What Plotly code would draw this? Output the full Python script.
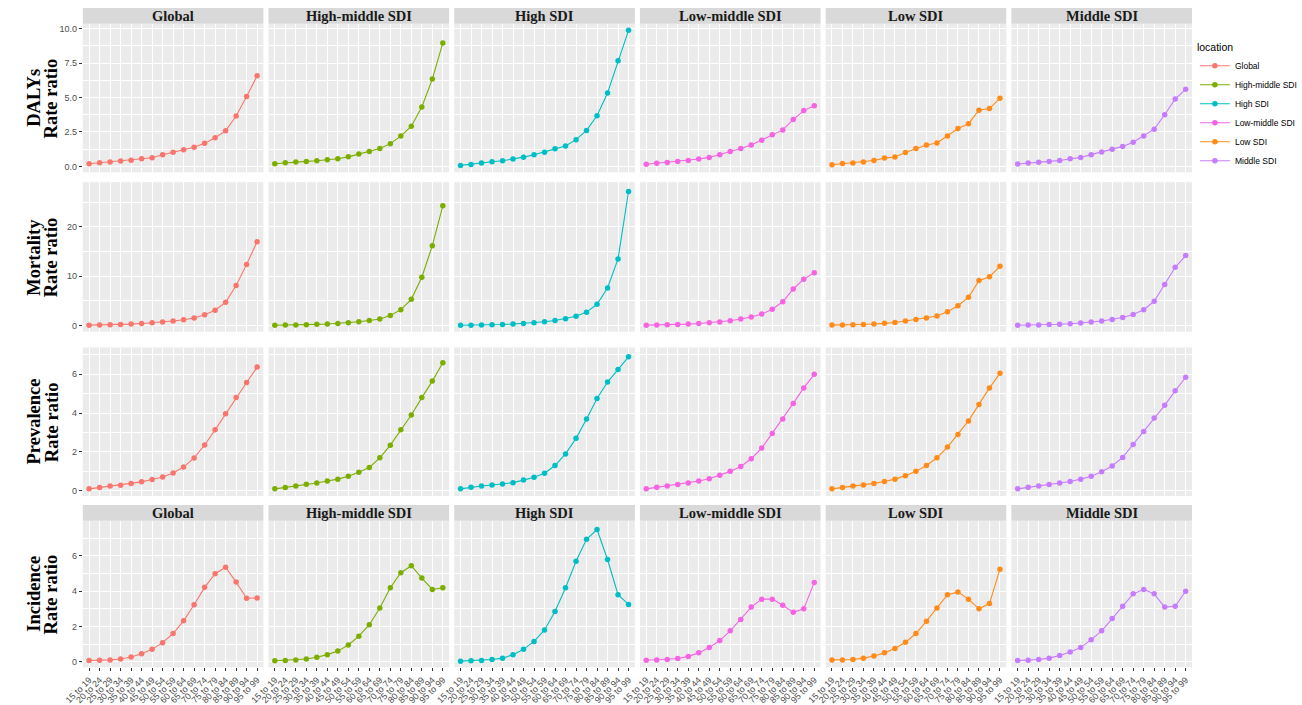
import plotly.graph_objects as go

# Age groups on the x axis
age_groups = ["15 to 19", "20 to 24", "25 to 29", "30 to 34", "35 to 39", "40 to 44",
              "45 to 49", "50 to 54", "55 to 59", "60 to 64", "65 to 69", "70 to 74",
              "75 to 79", "80 to 84", "85 to 89", "90 to 94", "95 to 99"]

locations = ["Global", "High-middle SDI", "High SDI", "Low-middle SDI", "Low SDI", "Middle SDI"]
measures = ["DALYs", "Mortality", "Prevalence", "Incidence"]

colors = {
    "Global": "#F8766D",
    "High-middle SDI": "#7CAE00",
    "High SDI": "#00BFC4",
    "Low-middle SDI": "#F564E3",
    "Low SDI": "#FF8C1A",
    "Middle SDI": "#C77CFF",
}

# DALYs rate ratio
dalys_global = [0.19, 0.26, 0.31, 0.38, 0.45, 0.55, 0.62, 0.84, 1.03, 1.20, 1.39, 1.67, 2.08, 2.58, 3.66, 5.07, 6.58]
dalys_high_middle = [0.19, 0.26, 0.31, 0.36, 0.41, 0.48, 0.55, 0.69, 0.89, 1.08, 1.29, 1.65, 2.20, 2.92, 4.31, 6.34, 8.97]
dalys_high = [0.07, 0.14, 0.24, 0.33, 0.41, 0.53, 0.67, 0.84, 1.03, 1.27, 1.48, 1.94, 2.61, 3.68, 5.33, 7.68, 9.88]
dalys_low_middle = [0.15, 0.22, 0.28, 0.35, 0.43, 0.53, 0.65, 0.85, 1.08, 1.30, 1.55, 1.90, 2.30, 2.65, 3.40, 4.05, 4.40]
dalys_low = [0.12, 0.20, 0.25, 0.32, 0.42, 0.60, 0.68, 1.00, 1.30, 1.55, 1.70, 2.20, 2.75, 3.10, 4.08, 4.20, 4.95]
dalys_middle = [0.17, 0.25, 0.30, 0.36, 0.42, 0.55, 0.65, 0.85, 1.05, 1.25, 1.45, 1.75, 2.20, 2.70, 3.75, 4.90, 5.60]

# Mortality rate ratio
mort_global = [0.05, 0.07, 0.13, 0.20, 0.27, 0.40, 0.54, 0.70, 0.90, 1.15, 1.50, 2.15, 3.10, 4.70, 8.10, 12.40, 17.00]
mort_high_middle = [0.04, 0.06, 0.10, 0.15, 0.22, 0.30, 0.40, 0.55, 0.75, 1.00, 1.30, 2.00, 3.20, 5.30, 9.80, 16.20, 24.30]
mort_high = [0.02, 0.04, 0.07, 0.12, 0.18, 0.28, 0.40, 0.55, 0.75, 1.00, 1.35, 1.85, 2.70, 4.30, 7.60, 13.50, 27.20]
mort_low_middle = [0.05, 0.08, 0.13, 0.19, 0.27, 0.38, 0.52, 0.70, 0.95, 1.30, 1.70, 2.30, 3.30, 4.80, 7.40, 9.40, 10.70]
mort_low = [0.06, 0.09, 0.14, 0.21, 0.30, 0.42, 0.58, 0.90, 1.20, 1.50, 1.90, 2.80, 4.00, 5.70, 9.10, 9.90, 12.00]
mort_middle = [0.04, 0.07, 0.11, 0.17, 0.25, 0.35, 0.48, 0.68, 0.90, 1.20, 1.60, 2.20, 3.20, 4.90, 8.30, 11.80, 14.20]

# Prevalence rate ratio
prev_global = [0.10, 0.17, 0.24, 0.29, 0.37, 0.46, 0.58, 0.71, 0.92, 1.22, 1.69, 2.36, 3.14, 3.97, 4.81, 5.58, 6.37]
prev_high_middle = [0.10, 0.17, 0.25, 0.33, 0.40, 0.50, 0.60, 0.75, 0.95, 1.20, 1.70, 2.35, 3.15, 3.90, 4.80, 5.65, 6.60]
prev_high = [0.10, 0.18, 0.25, 0.30, 0.35, 0.42, 0.55, 0.70, 0.90, 1.30, 1.90, 2.70, 3.70, 4.75, 5.60, 6.25, 6.90]
prev_low_middle = [0.10, 0.18, 0.25, 0.32, 0.40, 0.50, 0.62, 0.80, 1.00, 1.25, 1.65, 2.20, 2.95, 3.70, 4.50, 5.30, 6.00]
prev_low = [0.10, 0.17, 0.24, 0.30, 0.38, 0.48, 0.60, 0.78, 1.00, 1.30, 1.70, 2.25, 2.90, 3.60, 4.45, 5.30, 6.05]
prev_middle = [0.10, 0.18, 0.25, 0.32, 0.40, 0.48, 0.60, 0.75, 0.98, 1.28, 1.72, 2.38, 3.05, 3.75, 4.40, 5.15, 5.85]

# Incidence rate ratio
inc_global = [0.07, 0.08, 0.10, 0.15, 0.27, 0.45, 0.70, 1.08, 1.60, 2.32, 3.23, 4.22, 4.99, 5.36, 4.52, 3.60, 3.62]
inc_high_middle = [0.05, 0.07, 0.10, 0.15, 0.25, 0.40, 0.60, 0.95, 1.45, 2.10, 3.05, 4.20, 5.05, 5.45, 4.75, 4.10, 4.20]
inc_high = [0.03, 0.05, 0.07, 0.12, 0.20, 0.40, 0.70, 1.15, 1.80, 2.85, 4.20, 5.70, 6.95, 7.50, 5.80, 3.80, 3.25]
inc_low_middle = [0.08, 0.10, 0.12, 0.18, 0.30, 0.50, 0.80, 1.20, 1.75, 2.40, 3.10, 3.55, 3.55, 3.20, 2.80, 3.00, 4.50]
inc_low = [0.10, 0.10, 0.12, 0.20, 0.32, 0.50, 0.75, 1.10, 1.60, 2.30, 3.05, 3.80, 3.95, 3.55, 3.00, 3.30, 5.25]
inc_middle = [0.06, 0.08, 0.12, 0.20, 0.35, 0.55, 0.80, 1.25, 1.75, 2.45, 3.15, 3.85, 4.10, 3.85, 3.10, 3.15, 4.00]

series = {
    "DALYs": [dalys_global, dalys_high_middle, dalys_high, dalys_low_middle, dalys_low, dalys_middle],
    "Mortality": [mort_global, mort_high_middle, mort_high, mort_low_middle, mort_low, mort_middle],
    "Prevalence": [prev_global, prev_high_middle, prev_high, prev_low_middle, prev_low, prev_middle],
    "Incidence": [inc_global, inc_high_middle, inc_high, inc_low_middle, inc_low, inc_middle],
}

# y axis settings per measure: range, major ticks, tick text, minor ticks
y_axes = {
    "DALYs": ([-0.43, 10.36], [0, 2.5, 5, 7.5, 10], ["0.0", "2.5", "5.0", "7.5", "10.0"], [1.25, 3.75, 6.25, 8.75]),
    "Mortality": ([-1.27, 29.1], [0, 10, 20], ["0", "10", "20"], [5, 15, 25]),
    "Prevalence": ([-0.27, 7.38], [0, 2, 4, 6], ["0", "2", "4", "6"], [1, 3, 5, 7]),
    "Incidence": ([-0.32, 8.0], [0, 2, 4, 6], ["0", "2", "4", "6"], [1, 3, 5, 7]),
}

W, H = 1302, 705
col_left = [65, 254.2, 443.4, 632.6, 821.8, 1011]
col_width = 184
row_span = [(24, 174), (184, 335), (351, 501), (526, 674)]  # top, bottom in px
strip_span = {0: (8, 24), 3: (510, 526)}

Y_TICK_FONT = dict(family="Arial, Liberation Sans", size=9, color="#4D4D4D")
X_TICK_FONT = dict(family="Arial, Liberation Sans", size=9, color="#4D4D4D")
SERIF = "Times New Roman, Liberation Serif, serif"

fig = go.Figure()
layout = {}
shapes = []
annotations = []

n = 0
for r, measure in enumerate(measures):
    top, bottom = row_span[r]
    yrange, yticks, ytext, yminor = y_axes[measure]
    for c, loc in enumerate(locations):
        n += 1
        xa = "x" if n == 1 else f"x{n}"
        ya = "y" if n == 1 else f"y{n}"
        xkey = "xaxis" if n == 1 else f"xaxis{n}"
        ykey = "yaxis" if n == 1 else f"yaxis{n}"
        x0 = col_left[c] / W
        x1 = (col_left[c] + col_width) / W
        layout[xkey] = dict(
            domain=[x0, x1], anchor=ya, type="category",
            categoryorder="array", categoryarray=age_groups,
            tickmode="array", tickvals=age_groups, ticktext=age_groups,
            range=[-0.6, 16.6], showgrid=True, gridcolor="white", gridwidth=1.1,
            zeroline=False, showline=False, fixedrange=True,
            showticklabels=(r == 3), tickangle=-45, tickfont=X_TICK_FONT,
            ticks="outside" if r == 3 else "", ticklen=3, tickcolor="#333333", tickwidth=1,
        )
        layout[ykey] = dict(
            domain=[1 - bottom / H, 1 - top / H], anchor=xa,
            range=yrange, tickmode="array", tickvals=yticks, ticktext=ytext,
            showgrid=True, gridcolor="white", gridwidth=1.1, zeroline=False, showline=False,
            showticklabels=(c == 0), tickfont=Y_TICK_FONT,
            ticks="outside" if c == 0 else "", ticklen=3, tickcolor="#333333", tickwidth=1,
            minor=dict(tickvals=yminor, showgrid=True, gridcolor="white", gridwidth=0.5, ticks=""),
            fixedrange=True,
        )
        fig.add_trace(go.Scatter(
            x=age_groups, y=series[measure][c], xaxis=xa, yaxis=ya,
            mode="lines+markers", name=loc,
            showlegend=(r == 0),
            line=dict(color=colors[loc], width=1.1),
            marker=dict(color=colors[loc], size=5.5),
        ))
        if r in strip_span:
            s0, s1 = strip_span[r]
            shapes.append(dict(type="rect", xref="paper", yref="paper",
                               x0=x0, x1=x1, y0=1 - s1 / H, y1=1 - s0 / H,
                               fillcolor="#D9D9D9", line=dict(width=0), layer="below"))
            annotations.append(dict(text=f"<b>{loc}</b>", xref="paper", yref="paper",
                                    x=(x0 + x1) / 2, y=1 - (s0 + s1) / 2 / H,
                                    showarrow=False, xanchor="center", yanchor="middle",
                                    font=dict(family=SERIF, size=14.5, color="#1A1A1A")))
    # row title: two rotated lines
    mid = 1 - (top + bottom) / 2 / H
    for xpx, line in ((15, measure), (33, "Rate ratio")):
        annotations.append(dict(text=f"<b>{line}</b>", xref="paper", yref="paper",
                                x=xpx / W, y=mid, textangle=-90, showarrow=False,
                                xanchor="center", yanchor="middle",
                                font=dict(family=SERIF, size=18.5, color="black")))

fig.update_layout(
    width=W, height=H,
    margin=dict(l=0, r=0, t=0, b=0),
    paper_bgcolor="white", plot_bgcolor="#EBEBEB",
    shapes=shapes, annotations=annotations,
    legend=dict(
        title=dict(text="location", font=dict(family="Arial, Liberation Sans", size=10.5, color="black")),
        font=dict(family="Arial, Liberation Sans", size=8.5, color="black"),
        x=1198 / W, y=1 - 38 / H, xanchor="left", yanchor="top",
        bgcolor="rgba(255,255,255,0)", itemwidth=30, tracegroupgap=0,
    ),
    showlegend=True,
)
fig.update_layout(**layout)

fig.write_html("out.html")
